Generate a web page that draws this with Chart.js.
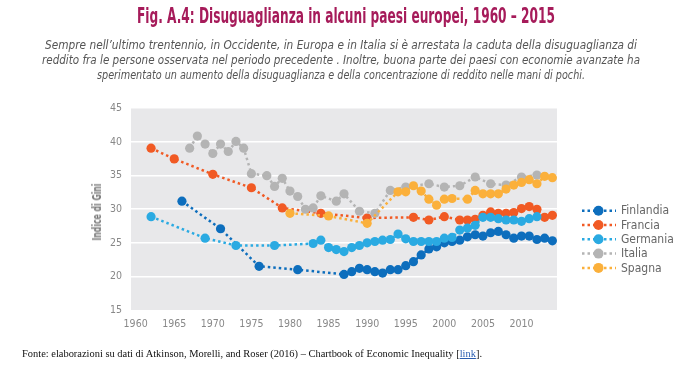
<!DOCTYPE html>
<html><head><meta charset="utf-8">
<script src="https://cdn.jsdelivr.net/npm/chart.js@4"></script>
<style>
body{margin:0;width:680px;height:380px;background:#fff;overflow:hidden;position:relative;font-family:"Liberation Sans Narrow","DejaVu Sans Condensed",sans-serif}
canvas#c{position:absolute;left:0;top:0}
.t{position:absolute;white-space:nowrap;transform-origin:0 0;line-height:1}
</style></head><body>
<canvas id="c" width="680" height="380"></canvas>
<div class="t fit" data-l="137" data-w="418" style="top:5px;font-size:22px;font-weight:bold;color:#a61b5a">Fig. A.4: Disuguaglianza in alcuni paesi europei, 1960 – 2015</div>
<div class="t fit" data-l="45" data-w="592" style="top:39px;font-size:12.5px;font-style:italic;color:#555">Sempre nell’ultimo trentennio, in Occidente, in Europa e in Italia si è arrestata la caduta della disuguaglianza di</div>
<div class="t fit" data-l="42" data-w="598" style="top:54px;font-size:12.5px;font-style:italic;color:#555">reddito fra le persone osservata nel periodo precedente . Inoltre, buona parte dei paesi con economie avanzate ha</div>
<div class="t fit" data-l="97" data-w="488" style="top:69px;font-size:12.5px;font-style:italic;color:#555">sperimentato un aumento della disuguaglianza e della concentrazione di reddito nelle mani di pochi.</div>
<div class="t fit" data-l="22" data-w="460" style="top:349px;font-size:10px;color:#111;font-family:'Liberation Serif',serif">Fonte: elaborazioni su dati di Atkinson, Morelli, and Roser (2016) – Chartbook of Economic Inequality [<span style="color:#2a5db0;text-decoration:underline">link</span>].</div>
<div id="ytitle" class="t" style="left:97px;top:212px;font-size:12px;font-weight:bold;color:#777;transform-origin:50% 50%">Indice di Gini</div>
<script>
// ---- data ----
const seriesNames = ["Finlandia","Francia","Germania","Italia","Spagna"];
const seriesColors = ["#0d6ebd","#f15a24","#2aaae2","#b4b4b4","#fbb03b"];
const xTickLabels = [1960,1965,1970,1975,1980,1985,1990,1995,2000,2005,2010];
const yTickLabels = [15,20,25,30,35,40,45];

const finlandiaYears  = [1966,1971,1976,1981,1987,1988,1989,1990,1991,1992,1993,1994,1995,1996,1997,1998,1999,2000,2001,2002,2003,2004,2005,2006,2007,2008,2009,2010,2011,2012,2013,2014];
const finlandiaValues = [31.2,27.1,21.5,21.0,20.3,20.7,21.2,21.0,20.7,20.5,21.0,21.0,21.6,22.2,23.2,24.1,24.4,25.0,25.2,25.4,25.9,26.2,26.0,26.5,26.7,26.2,25.7,26.0,26.0,25.5,25.7,25.3];

const franciaYears  = [1962,1965,1970,1975,1979,1984,1990,1996,1998,2000,2002,2003,2004,2005,2006,2007,2008,2009,2010,2011,2012,2013,2014];
const franciaValues = [39.1,37.5,35.2,33.2,30.2,29.4,28.7,28.8,28.4,28.9,28.4,28.4,28.5,29.1,29.6,29.4,29.4,29.5,30.1,30.4,30.0,28.8,29.1];

const germaniaYears  = [1962,1969,1973,1978,1983,1984,1985,1986,1987,1988,1989,1990,1991,1992,1993,1994,1995,1996,1997,1998,1999,2000,2001,2002,2003,2004,2005,2006,2007,2008,2009,2010,2011,2012];
const germaniaValues = [28.9,25.7,24.6,24.6,24.9,25.4,24.3,24.0,23.7,24.3,24.6,25.0,25.2,25.4,25.5,26.3,25.6,25.2,25.2,25.2,25.2,25.7,25.8,26.9,27.2,27.6,28.8,28.8,28.6,28.4,28.4,28.2,28.6,28.9];

const italiaYears  = [1967,1968,1969,1970,1971,1972,1973,1974,1975,1977,1978,1979,1980,1981,1982,1983,1984,1986,1987,1989,1991,1993,1995,1998,2000,2002,2004,2006,2008,2010,2012];
const italiaValues = [39.1,40.9,39.7,38.3,39.7,38.6,40.1,39.1,35.3,35.0,33.4,34.6,32.7,31.9,30.0,30.2,32.0,31.2,32.3,29.7,29.4,32.8,33.3,33.8,33.3,33.5,34.8,33.8,33.6,34.8,35.1];

const spagnaYears  = [1980,1985,1990,1994,1995,1996,1997,1998,1999,2000,2001,2003,2004,2005,2006,2007,2008,2009,2010,2011,2012,2013,2014];
const spagnaValues = [29.4,29.0,27.9,32.6,32.6,33.5,32.7,31.5,30.6,31.5,31.6,31.5,32.8,32.3,32.3,32.3,33.0,33.6,34.0,34.4,33.8,34.9,34.7];

const allYears = [finlandiaYears,franciaYears,germaniaYears,italiaYears,spagnaYears];
const allValues = [finlandiaValues,franciaValues,germaniaValues,italiaValues,spagnaValues];

const NARROW = '"Liberation Sans Narrow","DejaVu Sans Condensed",sans-serif';

function fitTexts(){
  document.querySelectorAll('.fit').forEach(el=>{
    el.style.transform = 'none';
    const w = el.getBoundingClientRect().width;
    el.style.left = el.dataset.l + 'px';
    el.style.transform = 'scaleX(' + (parseFloat(el.dataset.w)/w) + ')';
  });
  const el = document.getElementById('ytitle');
  el.style.transform = 'none';
  const r = el.getBoundingClientRect();
  el.style.transform = 'translate(-50%,-50%) rotate(-90deg) scaleX(' + (57 / r.width) + ')';
}

function drawChart(){
  const datasets = seriesNames.map((name,i)=>({
    label: name,
    data: allYears[i].map((yr,k)=>({x:yr, y:allValues[i][k]})),
    borderColor: seriesColors[i],
    backgroundColor: seriesColors[i],
    pointBackgroundColor: seriesColors[i],
    pointBorderWidth: 0,
    pointRadius: 4.6,
    pointHoverRadius: 4.6,
    borderWidth: 2.5,
    borderDash: [2.5,3],
    tension: 0,
    fill: false,
    order: seriesNames.length - i
  }));

  const bgPlugin = {
    id:'bg',
    beforeDraw(chart){
      const {ctx, chartArea:a} = chart;
      ctx.save();
      ctx.fillStyle = '#e8e8ea';
      ctx.fillRect(a.left, a.top, a.right-a.left, a.bottom-a.top);
      ctx.restore();
    }
  };

  const legendPlugin = {
    id:'customLegend',
    afterDraw(chart){
      const ctx = chart.ctx;
      ctx.save();
      seriesNames.forEach((name,i)=>{
        const ds = chart.data.datasets[i];
        const y = 210.7 + i*14.3;
        ctx.strokeStyle = ds.borderColor;
        ctx.lineWidth = 2.5;
        ctx.setLineDash([2.5,3]);
        ctx.beginPath(); ctx.moveTo(582,y); ctx.lineTo(616,y); ctx.stroke();
        ctx.setLineDash([]);
        ctx.fillStyle = ds.borderColor;
        ctx.beginPath(); ctx.arc(598.5,y,5,0,Math.PI*2); ctx.fill();
        ctx.fillStyle = '#666';
        ctx.font = '12px ' + NARROW;
        ctx.textBaseline = 'middle';
        ctx.textAlign = 'left';
        ctx.fillText(name, 621, y+0.5);
      });
      ctx.restore();
    }
  };

  new Chart(document.getElementById('c'), {
    type:'line',
    data:{datasets},
    options:{
      responsive:false,
      animation:false,
      devicePixelRatio:1,
      events:[],
      layout:{padding:{left:0,right:123,top:108.5,bottom:0}},
      plugins:{legend:{display:false},tooltip:{enabled:false},title:{display:false}},
      scales:{
        x:{
          type:'linear', min:1959.4, max:2014.6,
          afterBuildTicks(s){ s.ticks = xTickLabels.map(v=>({value:v})); },
          afterFit(s){ s.height = 70; },
          ticks:{ callback:v=>String(v), color:'#888', font:{family:NARROW,size:10.5}, padding:8, maxRotation:0, autoSkip:false },
          grid:{display:false, drawTicks:false},
          border:{display:false}
        },
        y:{
          min:15, max:45,
          afterBuildTicks(s){ s.ticks = yTickLabels.map(v=>({value:v})); },
          afterFit(s){ s.width = 131; },
          ticks:{ color:'#888', font:{family:NARROW,size:10.5}, padding:9 },
          grid:{ color:c=> (c.tick && (c.tick.value===15||c.tick.value===45)) ? 'rgba(0,0,0,0)' : '#ffffff', lineWidth:1.6, drawTicks:false },
          border:{display:false}
        }
      }
    },
    plugins:[bgPlugin, legendPlugin]
  });
}

const fontLoads = [
  'bold 22px "Liberation Sans Narrow"', 'italic 12.5px "Liberation Sans Narrow"',
  '12px "Liberation Sans Narrow"', 'bold 12px "Liberation Sans Narrow"',
  '10px "Liberation Serif"', '10px "DejaVu Sans Condensed"'
].map(f=>document.fonts.load(f).catch(()=>null));
let done = false;
function go(){ if(done) return; done = true; fitTexts(); drawChart(); }
Promise.all(fontLoads).then(()=>document.fonts.ready).then(go, go);
setTimeout(go, 1500);
</script>
</body></html>
